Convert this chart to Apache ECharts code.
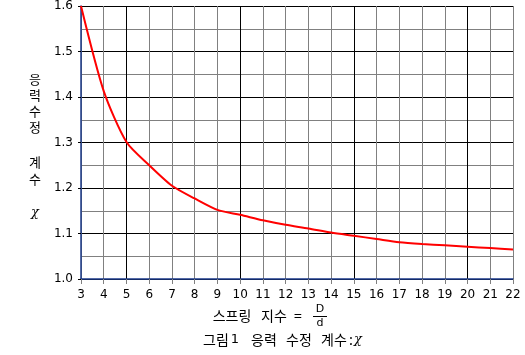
<!DOCTYPE html>
<html>
<head>
<meta charset="utf-8">
<script src="https://cdn.jsdelivr.net/npm/echarts@6/dist/echarts.min.js"></script>
<style>
html,body{margin:0;padding:0;background:#fff;}
#c{width:525px;height:355px;}
</style>
</head>
<body>
<div id="c"></div>
<script>
// spring index C = D/d
const springIndex = [3, 4, 5, 6, 7, 8, 9, 10, 11, 12, 13, 14, 15, 16, 17, 18, 19, 20, 21, 22];
// stress correction factor chi
const chiValues = [1.600, 1.413, 1.301, 1.250, 1.205, 1.177, 1.152, 1.141, 1.129, 1.119, 1.111, 1.102, 1.095, 1.088, 1.081, 1.077, 1.074, 1.071, 1.068, 1.065];
const yLabelChars = ['응', '력', '수', '정', '계', '수', 'χ'];
const xTitleParts = ['스프링', '지수', '='];
const captionParts = ['그림', '1', '응력', '수정', '계수', ':', 'χ'];

const chart = echarts.init(document.getElementById('c'), null, {renderer: 'canvas'});
const navy = '#1b3a8a';
const gray = '#808080';
const kr = '"Noto Sans CJK KR", sans-serif';
const yCharPos = [79, 95, 111, 127, 162, 179, 213];
const xTitleCenter = [232, 274, 298];
const captionCenter = [216, 235, 264, 299, 334, 351, 358];

const graphics = [];
yLabelChars.forEach((ch, i) => {
  graphics.push({
    type: 'text', x: 35, y: yCharPos[i],
    style: {text: ch, fill: '#000', align: 'center', verticalAlign: 'middle',
      font: (i === 6 ? 'italic 13px "DejaVu Serif"' : '13px ' + kr)}
  });
});
xTitleParts.forEach((t, i) => {
  graphics.push({type: 'text', x: xTitleCenter[i], y: 316,
    style: {text: t, fill: '#000', align: 'center', verticalAlign: 'middle', font: '14px ' + kr}});
});
graphics.push({type: 'text', x: 320, y: 309.5, style: {text: 'D', fill: '#000', align: 'center', verticalAlign: 'middle', font: '11px "DejaVu Sans"'}});
graphics.push({type: 'line', shape: {x1: 313, y1: 316.5, x2: 327, y2: 316.5}, style: {stroke: '#000', lineWidth: 1}});
graphics.push({type: 'text', x: 320, y: 323.5, style: {text: 'd', fill: '#000', align: 'center', verticalAlign: 'middle', font: '11px "DejaVu Sans"'}});
captionParts.forEach((t, i) => {
  let font = '14px ' + kr;
  if (t === 'χ') font = 'italic 13px "DejaVu Serif"';
  if (t === '1') font = '13px "DejaVu Sans"';
  graphics.push({type: 'text', x: captionCenter[i], y: 340,
    style: {text: t, fill: '#000', align: 'center', verticalAlign: 'middle', font: font}});
});

chart.setOption({
  backgroundColor: '#fff',
  animation: false,
  grid: {left: 81, right: 12, top: 6, bottom: 76, containLabel: false},
  xAxis: {
    type: 'value', min: 3, max: 22, interval: 1,
    axisLine: {show: true, lineStyle: {color: navy, width: 1.5}},
    axisTick: {show: true, length: 5, lineStyle: {color: gray}},
    axisLabel: {color: '#000', fontSize: 12, fontFamily: 'DejaVu Sans', margin: 10},
    splitLine: {show: true, lineStyle: {color: [gray, gray, '#000', gray, gray], width: 1}}
  },
  yAxis: {
    type: 'value', min: 1.0, max: 1.6, interval: 0.1,
    axisLine: {show: true, lineStyle: {color: navy, width: 1.5}},
    axisTick: {show: true, length: 3, lineStyle: {color: '#000'}},
    axisLabel: {color: '#000', fontSize: 12, fontFamily: 'DejaVu Sans', margin: 8, formatter: v => v.toFixed(1)},
    splitLine: {show: true, lineStyle: {color: '#000', width: 1}},
    minorTick: {show: false, splitNumber: 2},
    minorSplitLine: {show: true, lineStyle: {color: gray, width: 1}}
  },
  series: [{
    type: 'line',
    data: springIndex.map((x, i) => [x, chiValues[i]]),
    smooth: 0.25,
    showSymbol: false,
    lineStyle: {color: '#ff0000', width: 2},
    z: 5
  }],
  graphic: graphics
});
</script>
</body>
</html>
